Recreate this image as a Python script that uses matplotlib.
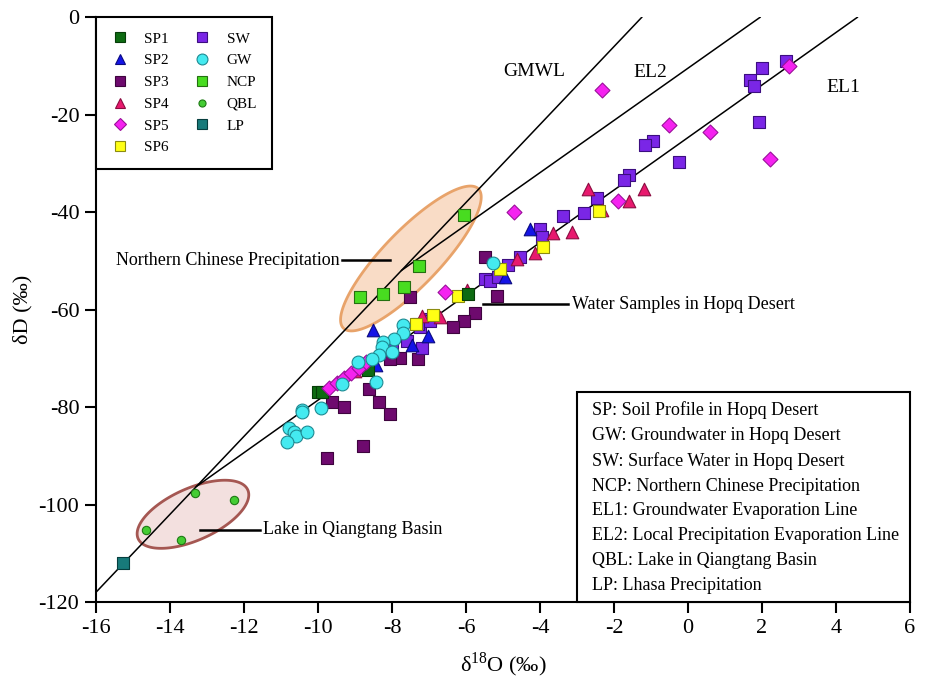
import numpy as np
import matplotlib
matplotlib.use('Agg')
import matplotlib.pyplot as plt
from matplotlib.patches import Polygon, Rectangle
from matplotlib.lines import Line2D

plt.rcParams['font.family'] = ['Liberation Serif', 'DejaVu Serif']
plt.rcParams['mathtext.fontset'] = 'custom'
plt.rcParams['mathtext.rm'] = 'Liberation Serif'
plt.rcParams['axes.unicode_minus'] = False

# ---------------- data (delta18O, deltaD) ----------------
sp1_x = [-10.0, -9.89, -8.65, -5.95]
sp1_y = [-76.8, -77.0, -72.3, -56.7]

sp2_x = [-8.51, -8.43, -7.03, -7.46, -4.95, -4.27]
sp2_y = [-64.1, -71.3, -65.5, -67.3, -53.2, -43.4]

sp3_x = [-5.49, -5.16, -5.76, -6.05, -6.35, -7.51, -7.78, -8.05, -7.30, -9.62,
         -9.30, -8.35, -8.05, -8.62, -8.78, -9.76]
sp3_y = [-49.1, -57.3, -60.6, -62.4, -63.5, -57.5, -70.0, -70.2, -70.2, -79.0,
         -79.9, -79.0, -81.5, -76.2, -87.9, -90.5]

sp4_x = [-2.70, -1.19, -1.59, -3.14, -3.65, -2.32, -4.14, -4.62, -5.97, -6.70,
         -7.19, -9.0, -8.7]
sp4_y = [-35.2, -35.2, -37.6, -44.0, -44.2, -39.5, -48.3, -49.7, -55.9, -61.6,
         -61.4, -72.5, -71.0]

sp5_x = [-2.32, -0.51, 0.59, 2.22, 2.73, -1.89, -4.70, -6.57, -9.7, -9.5,
         -9.3, -9.1, -8.9, -8.7]
sp5_y = [-14.9, -22.1, -23.5, -29.0, -10.0, -37.8, -39.9, -56.3, -76.0, -75.0,
         -74.0, -73.0, -72.0, -70.8]

sp6_x = [-2.41, -3.92, -5.08, -6.22, -6.89, -7.35]
sp6_y = [-39.7, -47.1, -51.6, -57.3, -61.2, -63.0]

sw_x = [2.65, 2.0, 1.68, 1.78, 1.92, -0.95, -1.16, -0.24, -1.59, -1.73,
        -2.46, -2.81, -3.38, -4.0, -3.95, -4.86, -4.54, -5.49, -5.35, -5.14,
        -7.24, -7.03, -7.19, -7.30, -6.97, -7.6, -8.0, -8.6]
sw_y = [-8.9, -10.4, -12.8, -14.1, -21.5, -25.3, -26.2, -29.7, -32.3, -33.3,
        -37.0, -40.1, -40.7, -43.4, -45.0, -50.8, -49.1, -53.8, -54.2, -53.2,
        -63.5, -62.0, -67.8, -63.0, -62.4, -66.5, -68.0, -71.0]

gw_x = [-5.27, -7.70, -7.70, -7.95, -8.24, -8.27, -8.0, -8.35, -8.54, -8.92,
        -9.35, -8.43, -10.43, -10.43, -9.92, -10.78, -10.65, -10.6, -10.30, -10.84]
gw_y = [-50.4, -63.1, -64.7, -66.1, -66.7, -67.6, -68.6, -69.4, -70.2, -70.8,
        -75.3, -74.9, -80.5, -81.1, -80.1, -84.2, -85.2, -86.0, -85.2, -87.2]

ncp_x = [-8.86, -8.24, -7.68, -7.27, -6.05]
ncp_y = [-57.5, -56.7, -55.3, -51.0, -40.5]

qbl_x = [-13.32, -12.27, -14.65, -13.70]
qbl_y = [-97.7, -99.1, -105.3, -107.3]

lp_x = [-15.27]
lp_y = [-112.1]

# reference lines: deltaD = slope * d18O + intercept
gmwl_slope, gmwl_int = 8.0, 10.0
el1_slope, el1_int = 5.39, -24.67
el2_slope, el2_int = 5.36, -10.44

x_ticks = list(range(-16, 7, 2))
y_ticks = list(range(-120, 1, 20))

notes = ["SP: Soil Profile in Hopq Desert",
         "GW: Groundwater in Hopq Desert",
         "SW: Surface Water in Hopq Desert",
         "NCP: Northern Chinese Precipitation",
         "EL1: Groundwater Evaporation Line",
         "EL2: Local Precipitation Evaporation Line",
         "QBL: Lake in Qiangtang Basin",
         "LP: Lhasa Precipitation"]

# ---------------- figure ----------------
W, H = 925, 684
fig = plt.figure(figsize=(W / 100, H / 100), dpi=100)
ax = fig.add_axes([0.1038, 0.1199, 0.88, 0.8548])
ax.set_xlim(-16, 6)
ax.set_ylim(-120, 0)

sx = W * 0.88 / 22.0     # px per d18O unit
sy = H * 0.8548 / 120.0  # px per dD unit


def ellipse(cx, cy, a_px, b_px, ang, fc, ec):
    t = np.linspace(0, 2 * np.pi, 200)
    th = np.deg2rad(ang)
    dx = a_px * np.cos(th) * np.cos(t) - b_px * np.sin(th) * np.sin(t)
    dy = a_px * np.sin(th) * np.cos(t) + b_px * np.cos(th) * np.sin(t)
    pts = np.column_stack([cx + dx / sx, cy + dy / sy])
    ax.add_patch(Polygon(pts, closed=True, facecolor=fc, edgecolor=ec,
                         lw=2.0, zorder=1))


ellipse(-7.49, -49.5, 97, 28, 46, '#F9DCC6', '#E8A36A')
ellipse(-13.38, -102.0, 60, 26, 24, '#F3E0DF', '#A55752')

# lines
xg = np.array([-16.0, -gmwl_int / gmwl_slope])
ax.plot(xg, gmwl_slope * xg + gmwl_int, color='black', lw=1.1, zorder=2)
x1s = (el1_int - gmwl_int) / (gmwl_slope - el1_slope)
x1 = np.array([x1s, -el1_int / el1_slope])
ax.plot(x1, el1_slope * x1 + el1_int, color='black', lw=1.1, zorder=2)
x2s = (el2_int - gmwl_int) / (gmwl_slope - el2_slope)
x2 = np.array([x2s, -el2_int / el2_slope])
ax.plot(x2, el2_slope * x2 + el2_int, color='black', lw=1.1, zorder=2)

styles = {
    'SP1': ('s', '#0E6B12', '#063C08', 64),
    'SP2': ('^', '#1414E6', '#0A0A80', 82),
    'SP3': ('s', '#6E0A6E', '#3E043E', 64),
    'SP4': ('^', '#E8196E', '#8A0C40', 82),
    'SP5': ('D', '#F522F0', '#9A109A', 58),
    'SP6': ('s', '#FFFF14', '#8C8C10', 64),
    'SW': ('s', '#7A26E6', '#3C0E80', 64),
    'GW': ('o', '#44EAF0', '#1E8A92', 85),
    'NCP': ('s', '#48DC20', '#247010', 64),
    'QBL': ('o', '#44CC33', '#1E7A14', 36),
    'LP': ('s', '#177A7A', '#063E3E', 80),
}
series = {
    'SP1': (sp1_x, sp1_y), 'SP2': (sp2_x, sp2_y), 'SP3': (sp3_x, sp3_y),
    'SP4': (sp4_x, sp4_y), 'SP5': (sp5_x, sp5_y), 'SP6': (sp6_x, sp6_y),
    'SW': (sw_x, sw_y), 'GW': (gw_x, gw_y), 'NCP': (ncp_x, ncp_y),
    'QBL': (qbl_x, qbl_y), 'LP': (lp_x, lp_y),
}
draw_order = ['SP3', 'SW', 'SP4', 'SP2', 'SP6', 'SP1', 'SP5', 'GW', 'NCP', 'QBL', 'LP']
for i, k in enumerate(draw_order):
    m, fc, ec, s = styles[k]
    xs, ys = series[k]
    ax.scatter(xs, ys, marker=m, s=s, facecolor=fc, edgecolor=ec,
               linewidths=0.8, zorder=3 + i * 0.01)

# legend
legend_order = ['SP1', 'SP2', 'SP3', 'SP4', 'SP5', 'SP6', 'SW', 'GW', 'NCP', 'QBL', 'LP']
handles = []
for k in legend_order:
    m, fc, ec, s = styles[k]
    ms = np.sqrt(s) * 0.85
    handles.append(Line2D([], [], linestyle='none', marker=m, markersize=ms,
                          markerfacecolor=fc, markeredgecolor=ec,
                          markeredgewidth=0.8, label=k))
leg = ax.legend(handles=handles, ncol=2, loc='upper left', bbox_to_anchor=(0, 1),
                borderaxespad=0, fancybox=False, framealpha=1, edgecolor='black',
                fontsize=11, labelspacing=0.53, handlelength=1.2, handletextpad=1.0,
                columnspacing=1.6, borderpad=0.95)
leg.get_frame().set_linewidth(1.5)

# notes box
bx0 = (577 - 96) / (W * 0.88)
by1 = (602 - 392) / (H * 0.8548)
ax.add_patch(Rectangle((bx0, 0), 1 - bx0, by1, transform=ax.transAxes,
                       facecolor='white', edgecolor='black', lw=1.5, zorder=5,
                       clip_on=False))
ax.text((592 - 96) / (W * 0.88), (602 - 401) / (H * 0.8548), "\n".join(notes),
        transform=ax.transAxes, ha='left', va='top', fontsize=13,
        linespacing=1.6, zorder=6)

# line labels
ax.text(-4.16, -11.2, 'GMWL', fontsize=14, ha='center', va='center')
ax.text(-1.03, -11.4, 'EL2', fontsize=14, ha='center', va='center')
ax.text(4.19, -14.5, 'EL1', fontsize=14, ha='center', va='center')

# annotations
ax.text(-9.41, -49.9, 'Northern Chinese Precipitation', fontsize=13, ha='right', va='center')
ax.plot([-9.35, -8.05], [-49.9, -49.9], color='black', lw=1.8, zorder=2)
ax.text(-3.14, -59.0, 'Water Samples in Hopq Desert', fontsize=13, ha='left', va='center')
ax.plot([-5.54, -3.24], [-58.9, -58.9], color='black', lw=1.8, zorder=2)
ax.text(-11.49, -105.2, 'Lake in Qiangtang Basin', fontsize=13, ha='left', va='center')
ax.plot([-13.19, -11.57], [-105.3, -105.3], color='black', lw=1.8, zorder=2)

# axes styling
ax.set_xticks(x_ticks)
ax.set_yticks(y_ticks)
ax.set_xticklabels([str(v) for v in x_ticks])
ax.set_yticklabels([str(v) for v in y_ticks])
ax.tick_params(direction='out', length=8, width=1.5, labelsize=16, pad=4)
for side in ('top', 'right'):
    ax.spines[side].set_visible(False)
for side in ('left', 'bottom'):
    ax.spines[side].set_linewidth(1.5)
ax.set_xlabel(r'δ$^{\mathrm{18}}$O (‰)', fontsize=16)
ax.set_ylabel('δD (‰)', fontsize=16)
ax.xaxis.set_label_coords(0.5, -0.082)
ax.yaxis.set_label_coords(-0.078, 0.5)

fig.savefig('out.png', dpi=100)
